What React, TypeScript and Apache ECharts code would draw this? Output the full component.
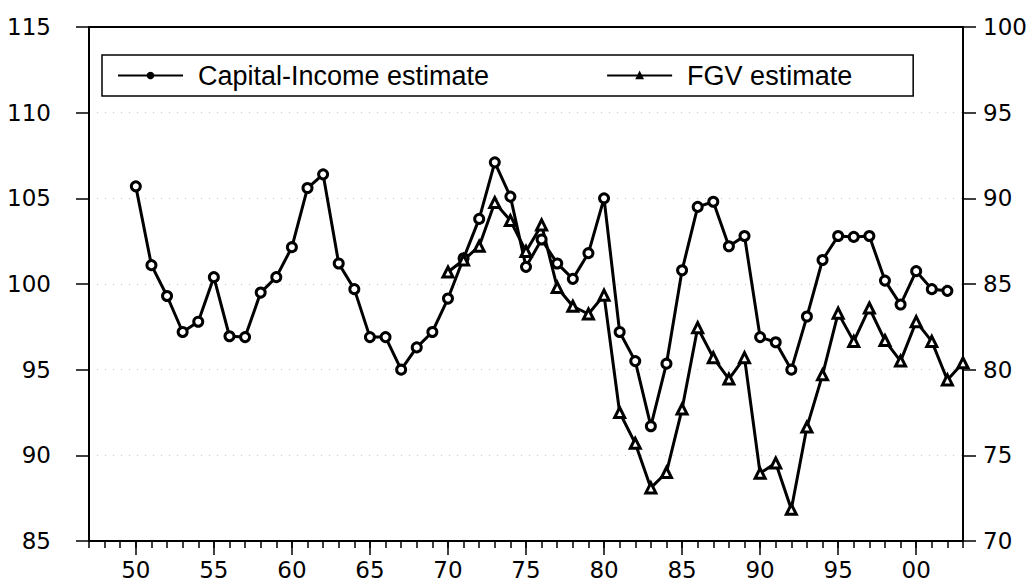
import React, { useEffect, useRef } from "react";
import * as echarts from "echarts";

const firstYear = 1947;
const lastYear = 2003;
const years: string[] = [];
for (let y = firstYear; y <= lastYear; y++) years.push(String(y));

const capitalStart = 1950;
const capitalIncome = [
  105.7, 101.1, 99.3, 97.2, 97.8, 100.4, 96.95, 96.9, 99.5, 100.4,
  102.15, 105.6, 106.4, 101.2, 99.7, 96.9, 96.9, 95.0, 96.3, 97.2,
  99.15, 101.5, 103.8, 107.1, 105.1, 101.0, 102.6, 101.2, 100.3, 101.8,
  105.0, 97.2, 95.5, 91.7, 95.35, 100.8, 104.5, 104.8, 102.2, 102.8,
  96.9, 96.6, 95.0, 98.1, 101.4, 102.8, 102.75, 102.8, 100.2, 98.8,
  100.75, 99.7, 99.6,
];

const fgvStart = 1970;
const fgv = [
  85.7, 86.4, 87.2, 89.75, 88.7, 86.9, 88.45, 84.8, 83.7, 83.25,
  84.35, 77.5, 75.7, 73.1, 74.0, 77.7, 82.45, 80.7, 79.45, 80.7,
  73.95, 74.55, 71.85, 76.65, 79.7, 83.3, 81.65, 83.6, 81.7, 80.5,
  82.8, 81.65, 79.4, 80.4,
];

const leftTicks = { min: 85, max: 115, interval: 5 };
const rightTicks = { min: 70, max: 100, interval: 5 };

function pad(start: number, values: number[]): (number | null)[] {
  return years.map((y) => {
    const i = Number(y) - start;
    return i >= 0 && i < values.length ? values[i] : null;
  });
}

export default function App() {
  const ref = useRef<HTMLDivElement>(null);
  useEffect(() => {
    document.body.style.margin = "0";
    if (!ref.current) return;
    const chart = echarts.init(ref.current, null, { renderer: "svg" });
    const textFont = "Liberation Sans, Arial, sans-serif";
    const tickFont = "DejaVu Sans, Liberation Sans, sans-serif";
    const isMajor = (_i: number, v: string) => Number(v) % 5 === 0;
    chart.setOption({
      animation: false,
      backgroundColor: "#fff",
      grid: {
        left: 89,
        top: 27,
        width: 874,
        height: 514,
        show: true,
        borderColor: "#000",
        borderWidth: 2,
        backgroundColor: "transparent",
      },
      legend: {
        left: 102,
        top: 55,
        itemWidth: 65,
        itemHeight: 7,
        itemGap: 117,
        padding: [7, 61, 7, 15],
        borderColor: "#000",
        borderWidth: 1.5,
        itemStyle: { color: "#000", borderColor: "#000" },
        textStyle: {
          fontSize: 27,
          fontFamily: textFont,
          color: "#000",
          padding: [0, 0, 0, 10],
        },
        data: ["Capital-Income estimate", "FGV estimate"],
      },
      xAxis: [
        {
          type: "category",
          data: years,
          boundaryGap: false,
          position: "bottom",
          axisLine: { lineStyle: { color: "#000", width: 2 } },
          axisTick: { show: true, interval: 0, length: 7, lineStyle: { color: "#000", width: 1.5 } },
          axisLabel: { show: false },
          splitLine: { show: false },
        },
        {
          type: "category",
          data: years,
          boundaryGap: false,
          position: "bottom",
          axisLine: { show: false },
          axisTick: { show: true, interval: isMajor, length: 14, lineStyle: { color: "#000", width: 1.5 } },
          axisLabel: {
            interval: isMajor,
            margin: 17,
            fontSize: 23,
            fontFamily: tickFont,
            color: "#000",
            formatter: (v: string) => String(Number(v) % 100).padStart(2, "0"),
          },
          splitLine: { show: false },
        },
      ],
      yAxis: [
        {
          type: "value",
          position: "left",
          min: leftTicks.min,
          max: leftTicks.max,
          interval: leftTicks.interval,
          axisLine: { show: true, lineStyle: { color: "#000", width: 2 } },
          axisTick: { show: true, length: 13, lineStyle: { color: "#000", width: 1.5 } },
          axisLabel: { margin: 38, fontSize: 23, fontFamily: tickFont, color: "#000" },
          splitLine: {
            show: true,
            showMinLine: false,
            showMaxLine: false,
            lineStyle: { color: "#c8c8c8", width: 1, type: [1, 7] },
          },
        },
        {
          type: "value",
          position: "right",
          min: rightTicks.min,
          max: rightTicks.max,
          interval: rightTicks.interval,
          axisLine: { show: true, lineStyle: { color: "#000", width: 2 } },
          axisTick: { show: true, length: 13, lineStyle: { color: "#000", width: 1.5 } },
          axisLabel: { margin: 20, fontSize: 23, fontFamily: tickFont, color: "#000" },
          splitLine: { show: false },
        },
      ],
      series: [
        {
          name: "Capital-Income estimate",
          type: "line",
          xAxisIndex: 0,
          yAxisIndex: 0,
          data: pad(capitalStart, capitalIncome),
          symbol: "circle",
          symbolSize: 9,
          showAllSymbol: true,
          connectNulls: false,
          lineStyle: { color: "#000", width: 3 },
          itemStyle: { color: "#fff", borderColor: "#000", borderWidth: 3 },
        },
        {
          name: "FGV estimate",
          type: "line",
          xAxisIndex: 0,
          yAxisIndex: 1,
          data: pad(fgvStart, fgv),
          symbol: "triangle",
          symbolSize: 10,
          showAllSymbol: true,
          connectNulls: false,
          lineStyle: { color: "#000", width: 3 },
          itemStyle: { color: "#fff", borderColor: "#000", borderWidth: 3 },
        },
      ],
    });
    return () => chart.dispose();
  }, []);
  return <div ref={ref} style={{ width: 1035, height: 585 }} />;
}
